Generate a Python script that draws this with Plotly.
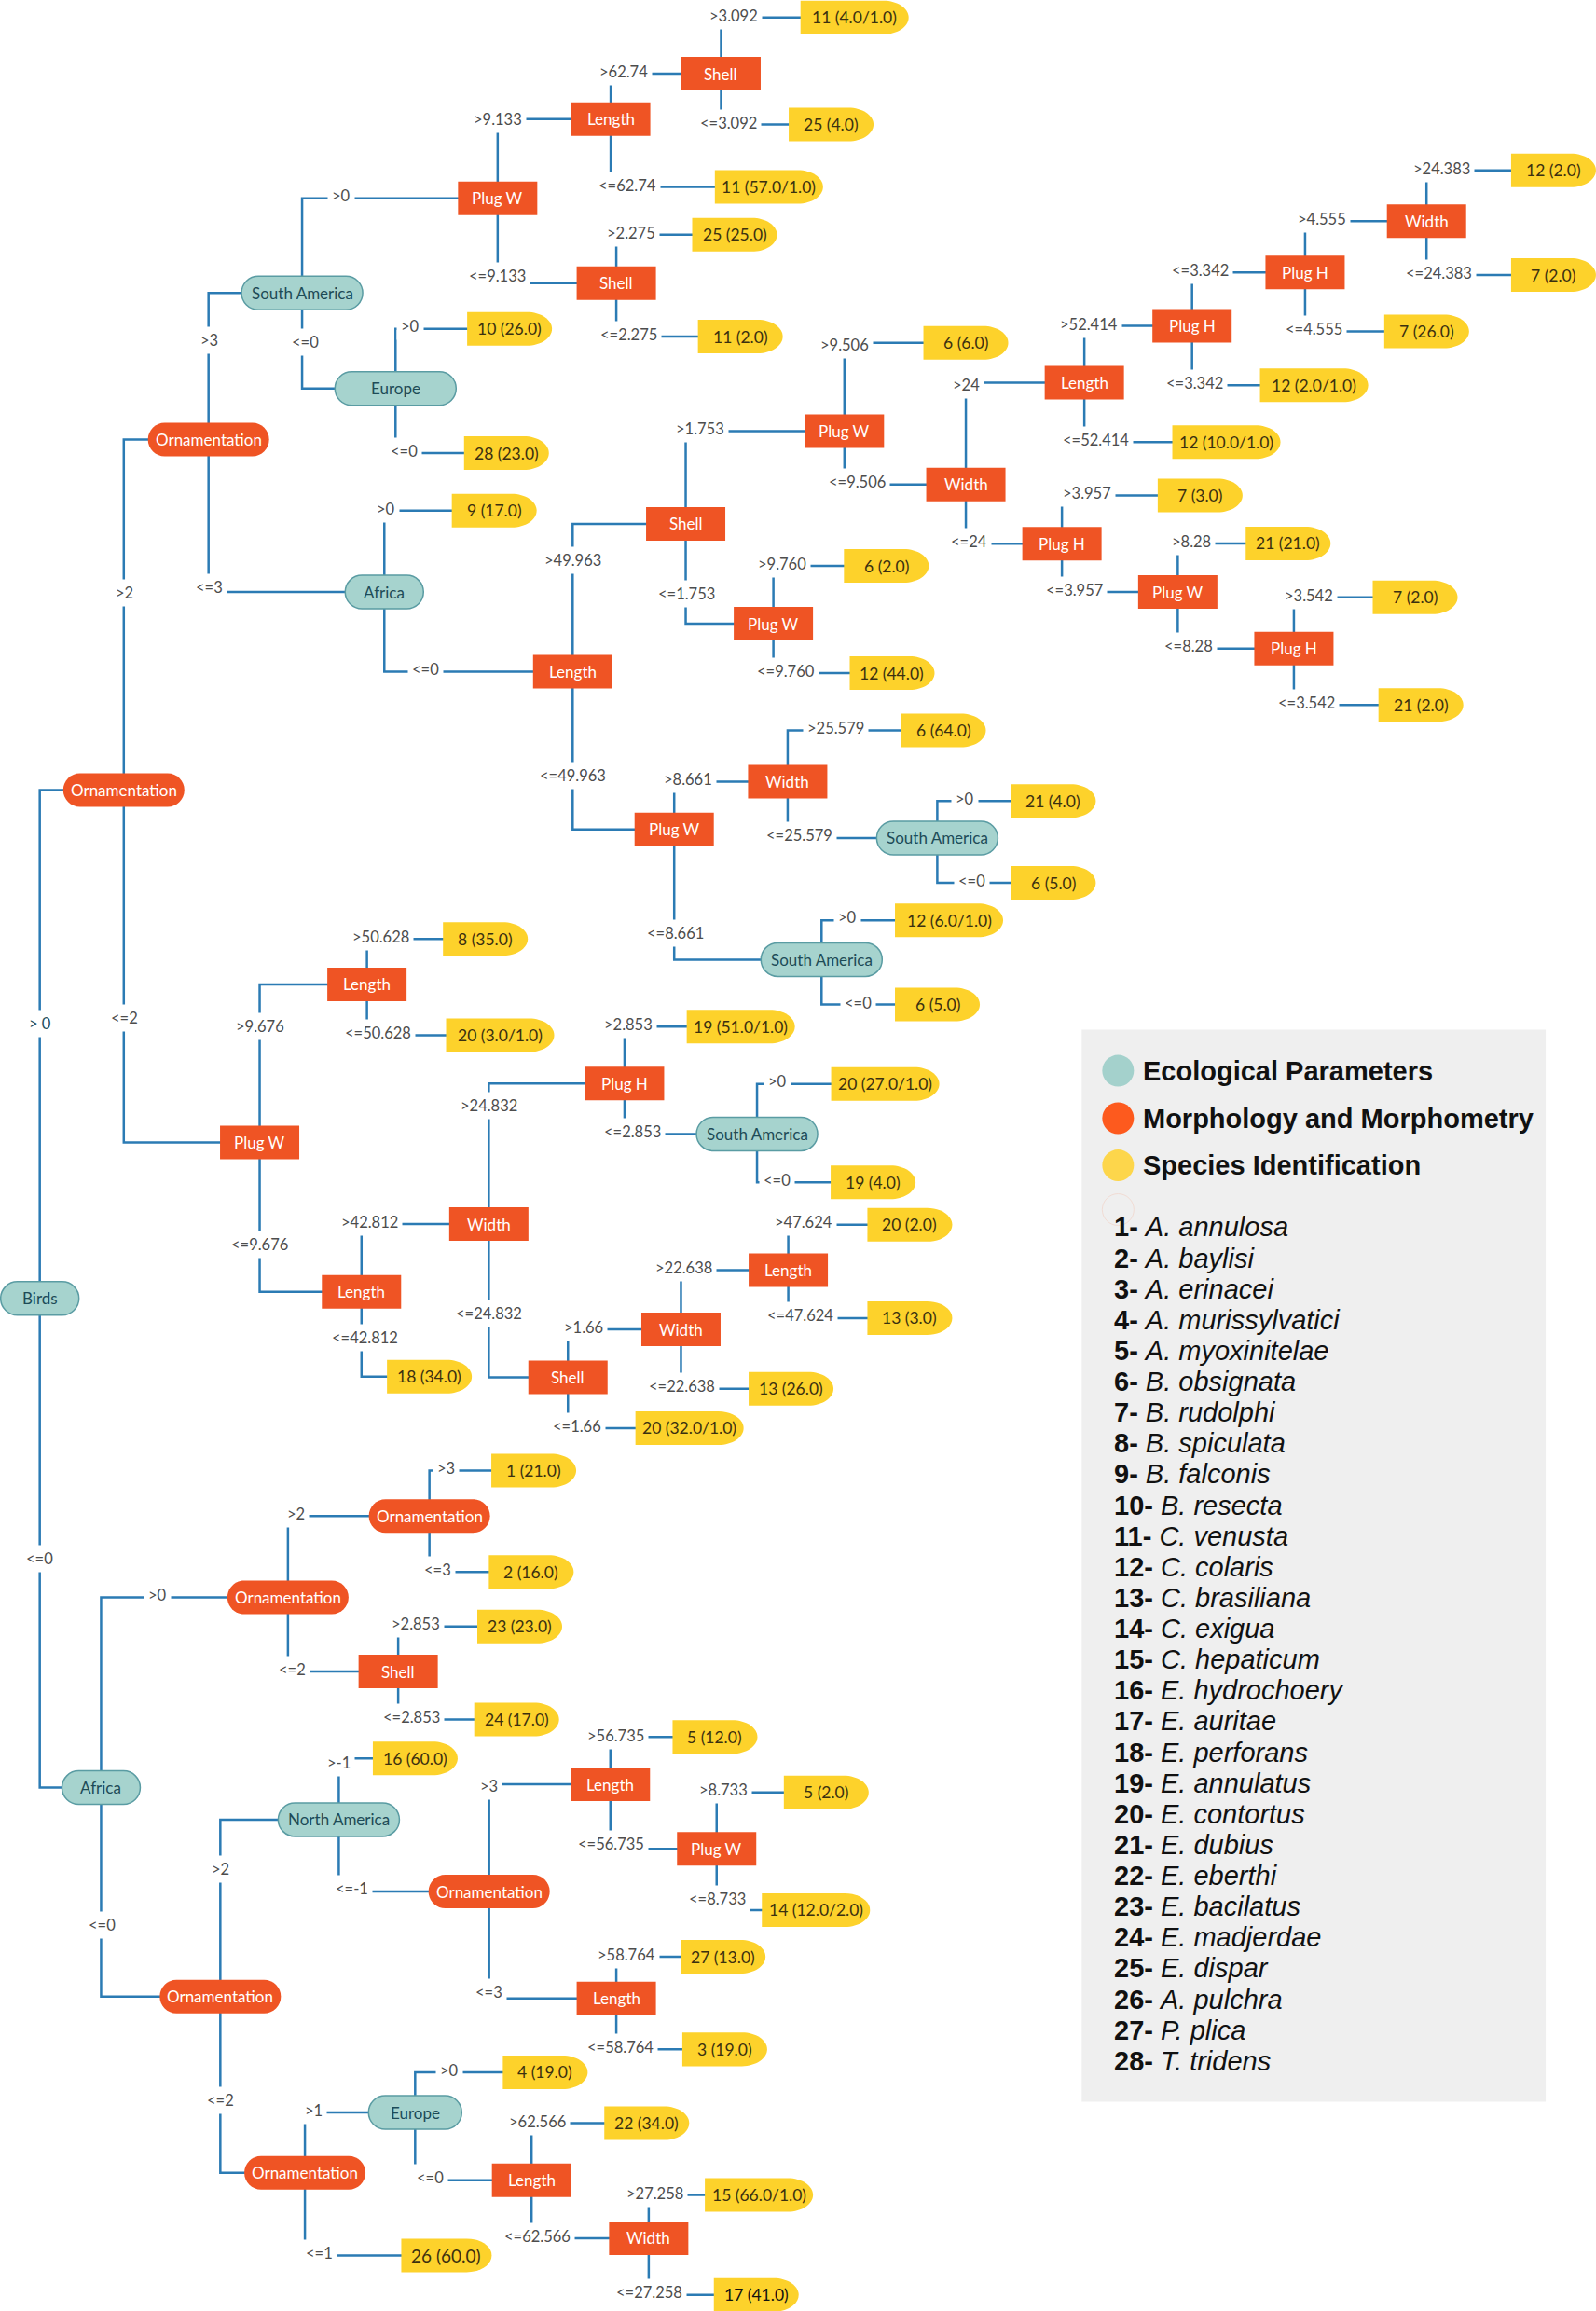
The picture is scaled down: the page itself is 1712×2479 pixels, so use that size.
import plotly.graph_objects as go

# ---------------- DATA ----------------
internal_ids = ["birds", "ornA", "ornB", "sa1", "pw1", "len1", "sh1", "sh2", "eu1", "af1",
                "len2", "sh3", "pw2", "wd1", "len3", "ph1", "ph2", "wd2", "ph3", "pw3",
                "ph4", "pw4", "pw5", "wd3", "sa2", "sa3", "pw6", "len4", "len5", "wd4",
                "ph5", "sa4", "sh4", "wd5", "len6", "af2", "ornC", "ornD", "sh5", "ornE",
                "na", "ornF", "len7", "pw7", "len8", "ornG", "eu2", "len9", "wd6"]
internal_labels = ["Birds", "Ornamentation", "Ornamentation", "South America", "Plug W", "Length",
                   "Shell", "Shell", "Europe", "Africa", "Length", "Shell", "Plug W", "Width",
                   "Length", "Plug H", "Plug H", "Width", "Plug H", "Plug W", "Plug H", "Plug W",
                   "Plug W", "Width", "South America", "South America", "Plug W", "Length",
                   "Length", "Width", "Plug H", "South America", "Shell", "Width", "Length",
                   "Africa", "Ornamentation", "Ornamentation", "Shell", "Ornamentation",
                   "North America", "Ornamentation", "Length", "Plug W", "Length",
                   "Ornamentation", "Europe", "Length", "Width"]
internal_kinds = ["eco", "orn", "orn", "eco", "rect", "rect", "rect", "rect", "eco", "eco",
                  "rect", "rect", "rect", "rect", "rect", "rect", "rect", "rect", "rect", "rect",
                  "rect", "rect", "rect", "rect", "eco", "eco", "rect", "rect", "rect", "rect",
                  "rect", "eco", "rect", "rect", "rect", "eco", "orn", "orn", "rect", "orn",
                  "eco", "orn", "rect", "rect", "rect", "orn", "eco", "rect", "rect"]

leaf_ids = ["l%d" % i for i in range(1, 51)]
leaf_labels = ["11 (4.0/1.0)", "25 (4.0)", "11 (57.0/1.0)", "25 (25.0)", "11 (2.0)",
               "10 (26.0)", "28 (23.0)", "9 (17.0)", "6 (6.0)", "12 (2.0)",
               "7 (2.0)", "7 (26.0)", "12 (2.0/1.0)", "12 (10.0/1.0)", "7 (3.0)",
               "21 (21.0)", "7 (2.0)", "21 (2.0)", "6 (2.0)", "12 (44.0)",
               "6 (64.0)", "21 (4.0)", "6 (5.0)", "12 (6.0/1.0)", "6 (5.0)",
               "8 (35.0)", "20 (3.0/1.0)", "19 (51.0/1.0)", "20 (27.0/1.0)", "19 (4.0)",
               "18 (34.0)", "20 (2.0)", "13 (3.0)", "13 (26.0)", "20 (32.0/1.0)",
               "1 (21.0)", "2 (16.0)", "23 (23.0)", "24 (17.0)", "16 (60.0)",
               "5 (12.0)", "5 (2.0)", "14 (12.0/2.0)", "27 (13.0)", "3 (19.0)",
               "4 (19.0)", "22 (34.0)", "15 (66.0/1.0)", "17 (41.0)", "26 (60.0)"]

edge_parent = ["birds", "birds", "ornA", "ornA", "ornB", "ornB", "sa1", "sa1", "pw1", "pw1",
               "len1", "len1", "sh1", "sh1", "sh2", "sh2", "eu1", "eu1", "af1", "af1",
               "len2", "len2", "sh3", "sh3", "pw2", "pw2", "wd1", "wd1", "len3", "len3",
               "ph1", "ph1", "ph2", "ph2", "wd2", "wd2", "ph3", "ph3", "pw3", "pw3",
               "ph4", "ph4", "pw4", "pw4", "pw5", "pw5", "wd3", "wd3", "sa2", "sa2",
               "sa3", "sa3", "pw6", "pw6", "len4", "len4", "len5", "len5", "wd4", "wd4",
               "ph5", "ph5", "sa4", "sa4", "sh4", "sh4", "wd5", "wd5", "len6", "len6",
               "af2", "af2", "ornC", "ornC", "ornD", "ornD", "sh5", "sh5", "ornE", "ornE",
               "na", "na", "ornF", "ornF", "len7", "len7", "pw7", "pw7", "len8", "len8",
               "ornG", "ornG", "eu2", "eu2", "len9", "len9", "wd6", "wd6"]
edge_child = ["ornA", "af2", "ornB", "pw6", "sa1", "af1", "pw1", "eu1", "len1", "sh2",
              "sh1", "l3", "l1", "l2", "l4", "l5", "l6", "l7", "l8", "len2",
              "sh3", "pw5", "pw2", "pw4", "l9", "wd1", "len3", "ph3", "ph1", "l14",
              "ph2", "l13", "wd2", "l12", "l10", "l11", "l15", "pw3", "l16", "ph4",
              "l17", "l18", "l19", "l20", "wd3", "sa3", "l21", "sa2", "l22", "l23",
              "l24", "l25", "len4", "len5", "l26", "l27", "wd4", "l31", "ph5", "sh4",
              "l28", "sa4", "l29", "l30", "wd5", "l35", "len6", "l34", "l32", "l33",
              "ornC", "ornE", "ornD", "sh5", "l36", "l37", "l38", "l39", "na", "ornG",
              "l40", "ornF", "len7", "len8", "l41", "pw7", "l42", "l43", "l44", "l45",
              "eu2", "l50", "l46", "len9", "l47", "wd6", "l48", "l49"]
edge_condition = ["> 0", "<=0", ">2", "<=2", ">3", "<=3", ">0", "<=0", ">9.133", "<=9.133",
                  ">62.74", "<=62.74", ">3.092", "<=3.092", ">2.275", "<=2.275", ">0", "<=0", ">0", "<=0",
                  ">49.963", "<=49.963", ">1.753", "<=1.753", ">9.506", "<=9.506", ">24", "<=24", ">52.414", "<=52.414",
                  "<=3.342", "<=3.342", ">4.555", "<=4.555", ">24.383", "<=24.383", ">3.957", "<=3.957", ">8.28", "<=8.28",
                  ">3.542", "<=3.542", ">9.760", "<=9.760", ">8.661", "<=8.661", ">25.579", "<=25.579", ">0", "<=0",
                  ">0", "<=0", ">9.676", "<=9.676", ">50.628", "<=50.628", ">42.812", "<=42.812", ">24.832", "<=24.832",
                  ">2.853", "<=2.853", ">0", "<=0", ">1.66", "<=1.66", ">22.638", "<=22.638", ">47.624", "<=47.624",
                  ">0", "<=0", ">2", "<=2", ">3", "<=3", ">2.853", "<=2.853", ">2", "<=2",
                  ">-1", "<=-1", ">3", "<=3", ">56.735", "<=56.735", ">8.733", "<=8.733", ">58.764", "<=58.764",
                  ">1", "<=1", ">0", "<=0", ">62.566", "<=62.566", ">27.258", "<=27.258"]

legend_categories = ["Ecological Parameters", "Morphology and Morphometry", "Species Identification"]
species_numbers = [str(i) for i in range(1, 29)]
species_names = ["A. annulosa", "A. baylisi", "A. erinacei", "A. murissylvatici", "A. myoxinitelae",
                 "B. obsignata", "B. rudolphi", "B. spiculata", "B. falconis", "B. resecta",
                 "C. venusta", "C. colaris", "C. brasiliana", "C. exigua", "C. hepaticum",
                 "E. hydrochoery", "E. auritae", "E. perforans", "E. annulatus", "E. contortus",
                 "E. dubius", "E. eberthi", "E. bacilatus", "E. madjerdae", "E. dispar",
                 "A. pulchra", "P. plica", "T. tridens"]

# ---------------- LAYOUT (diagram units: 1083 x 1568 canvas) ----------------
internal_xy = {
    "birds": (27, 881), "ornA": (84, 536), "ornB": (141.5, 298.2), "sa1": (205, 198.8),
    "pw1": (337.7, 134.6), "len1": (414.4, 80.8), "sh1": (489.3, 50), "sh2": (418.2, 192.1),
    "eu1": (268.4, 263.6), "af1": (260.8, 401.7), "len2": (388.6, 455.7), "sh3": (465.3, 355.4),
    "pw2": (573, 292.6), "wd1": (655.4, 328.7), "len3": (735.8, 259.6), "ph1": (808.9, 221.1),
    "ph2": (885.6, 184.9), "wd2": (968, 150.1), "ph3": (720.6, 368.9), "pw3": (799.2, 401.7),
    "ph4": (878, 440), "pw4": (524.8, 423.2), "pw5": (457.5, 562.8), "wd3": (534.5, 530.3),
    "sa2": (636, 568.6), "sa3": (557.5, 651.1), "pw6": (176.2, 775.2), "len4": (249, 667.9),
    "len5": (245.3, 876.5), "wd4": (331.7, 830.5), "ph5": (423.8, 735.1), "sa4": (513.7, 769.4),
    "sh4": (385.4, 934.5), "wd5": (462.1, 902), "len6": (534.9, 861.8), "af2": (68.6, 1212.9),
    "ornC": (195.4, 1083.8), "ornD": (291.4, 1028.6), "sh5": (270.2, 1134.1), "ornE": (149.5, 1354.7),
    "na": (229.9, 1234.6), "ornF": (331.9, 1283.4), "len7": (414.2, 1210.7), "pw7": (486.3, 1254.4),
    "len8": (418.2, 1356), "ornG": (206.9, 1474.3), "eu2": (281.7, 1433.3), "len9": (360.7, 1479.3),
    "wd6": (440.2, 1518.6),
}
leaf_left_y = [
    (543.2, 11.8), (535.2, 84.5), (485.1, 126.8), (469.7, 159.3), (473.6, 228.4),
    (317, 223.1), (314.9, 307.4), (306.6, 346.4), (626.6, 232.6), (1025.4, 115.6),
    (1025.4, 186.6), (939.3, 224.9), (855, 261.4), (795.5, 299.9), (785.6, 336.2),
    (845.3, 368.7), (931.5, 405.3), (935.4, 478.3), (572.7, 384), (576.6, 456.7),
    (611.4, 495.5), (686, 543.5), (686, 599), (607.3, 624.4), (607.3, 681.6),
    (300.6, 637.1), (302.7, 702.4), (466, 696.6), (564, 735.4), (563.7, 802.2),
    (262.6, 934), (588.6, 831), (588.6, 894.3), (508, 942.3), (431.2, 969),
    (333.4, 997.8), (331.7, 1066.6), (323.9, 1103.6), (321.8, 1166.6), (253, 1193.1),
    (456.4, 1178.5), (531.9, 1216.2), (517, 1296), (461.9, 1327.7), (463, 1390.5),
    (341.2, 1406), (410.1, 1440.6), (478.3, 1489.3), (484.4, 1557.1), (272.3, 1530.3),
]
edge_label_xy = [
    (27, 694.6), (27, 1057.3), (84.3, 402.2), (84.3, 690.6), (141.9, 230.6), (142.1, 398.5),
    (231.5, 133.1), (207.3, 231.9), (337.7, 80.8), (337.7, 187.1),
    (423, 48.7), (425.7, 125.6), (497.6, 10.5), (494.4, 83.3), (428.5, 158.1), (426.6, 227.1),
    (278.3, 221.6), (274.1, 306.2), (262.2, 345.2), (288.6, 454),
    (388.9, 380.4), (388.9, 526), (475, 290.9), (465.8, 403.2), (573.1, 233.9), (581.9, 327.2),
    (655.6, 261.4), (657.3, 367.7), (739, 220.1), (743.7, 298.4),
    (814.7, 183.3), (810.9, 260.1), (896.9, 148.8), (891.6, 223.4), (978.4, 114.3), (976.3, 185.1),
    (737.9, 334.7), (729, 400.2), (808.2, 367.7), (806.6, 438.5),
    (888.2, 404), (886.5, 476.7), (530.6, 382.7), (533.1, 455.2), (466.7, 528.8), (458, 633.1),
    (566.9, 494), (542.5, 566.8), (654.9, 542.3), (659.6, 597.8),
    (575, 622.4), (582.4, 680.4), (176.2, 696.6), (176.4, 844.5), (258.5, 635.6), (256.2, 701.1),
    (251.1, 829), (247.7, 907.7), (331.7, 749.9), (331.7, 891.5),
    (426.2, 695.4), (429.4, 768), (527.5, 733.9), (527.1, 800.9), (396.3, 900.5), (391.6, 967.8),
    (463.8, 860.2), (462.6, 940.8), (545.5, 829.5), (543.2, 892.7),
    (106.7, 1082.3), (69.1, 1306.2), (200.9, 1027), (198.6, 1132.6), (302.9, 996.5), (296.7, 1065.3),
    (282.4, 1102.1), (279.2, 1165.1), (149.7, 1268.4), (149.7, 1425),
    (229.9, 1196.1), (238.7, 1281.7), (331.7, 1211.7), (332, 1351.7), (418, 1177.5), (414.4, 1250.9),
    (490.9, 1214.6), (486.8, 1288.2), (424.8, 1326.2), (420.7, 1389.3),
    (212.9, 1431.8), (216.5, 1528.8), (305.2, 1404.8), (292.1, 1477.3), (365, 1439.3), (365, 1517.3),
    (444.2, 1488.1), (440.7, 1555.6),
]

# ---------------- STYLE ----------------
K = 1712 / 1083.0          # pixels per diagram unit


def u(px):
    return px / K


NODE_H = u(36)
RECT_W = u(85)
PILL_W = u(130)
eco_width_px = {"birds": 84, "af1": 84, "af2": 84, "eu2": 100}
leaf_width_px_override = {"l50": 97}
leaf_font_override = {"l50": 19}
leaf_color_override = {"l49": "#111111"}

EDGE_COLOR = "#2b7bb4"
ORANGE = "#ef5424"
TEAL = "#a6d3ce"
TEAL_LINE = "#5a9ca3"
YELLOW = "#fdd22b"
FONT = "Lato, 'Open Sans', sans-serif"
LEG_FONT = "'Liberation Sans', Arial, sans-serif"


def stadium(xc, yc, w, h, rl, rr):
    k = 0.5523
    x0, x1 = xc - w / 2, xc + w / 2
    y0, y1 = yc - h / 2, yc + h / 2
    ry = h / 2
    p = f"M{x0 + rl},{y0} L{x1 - rr},{y0} "
    if rr > 0:
        p += (f"C{x1 - rr + k * rr},{y0} {x1},{yc - k * ry} {x1},{yc} "
              f"C{x1},{yc + k * ry} {x1 - rr + k * rr},{y1} {x1 - rr},{y1} ")
    else:
        p += f"L{x1},{y0} L{x1},{y1} "
    p += f"L{x0 + rl},{y1} "
    if rl > 0:
        p += (f"C{x0 + rl - k * rl},{y1} {x0},{yc + k * ry} {x0},{yc} "
              f"C{x0},{yc - k * ry} {x0 + rl - k * rl},{y0} {x0 + rl},{y0} ")
    else:
        p += f"L{x0},{y1} L{x0},{y0} "
    return p + "Z"


# node centres
centre = dict(internal_xy)
leaf_w = {}
for lid, lab, (lx, ly) in zip(leaf_ids, leaf_labels, leaf_left_y):
    wpx = leaf_width_px_override.get(lid, 116 if "/" in lab else 91)
    leaf_w[lid] = u(wpx)
    centre[lid] = (lx + u(wpx) / 2, ly)

fig = go.Figure()

# edges (elbow connectors)
ex, ey = [], []
for p, c in zip(edge_parent, edge_child):
    px, py = centre[p]
    cx, cy = centre[c]
    ex += [px, px, cx, None]
    ey += [py, cy, cy, None]
fig.add_trace(go.Scatter(x=ex, y=ey, mode="lines", line=dict(color=EDGE_COLOR, width=2.5),
                         hoverinfo="skip", showlegend=False))

shapes = []
annotations = []

# legend box
shapes.append(dict(type="rect", xref="x", yref="y", x0=734, x1=1048.9, y0=698.6, y1=1426,
                   fillcolor="#efefef", line=dict(width=0), layer="below"))

# internal nodes
for nid, lab, kind in zip(internal_ids, internal_labels, internal_kinds):
    x, y = internal_xy[nid]
    if kind == "rect":
        shapes.append(dict(type="rect", xref="x", yref="y", x0=x - RECT_W / 2, x1=x + RECT_W / 2,
                           y0=y - NODE_H / 2, y1=y + NODE_H / 2, fillcolor=ORANGE,
                           line=dict(width=0), layer="above"))
        tcol = "white"
    elif kind == "orn":
        shapes.append(dict(type="path", xref="x", yref="y",
                           path=stadium(x, y, PILL_W, NODE_H, NODE_H / 2, NODE_H / 2),
                           fillcolor=ORANGE, line=dict(width=0), layer="above"))
        tcol = "white"
    else:
        w = u(eco_width_px.get(nid, 130))
        shapes.append(dict(type="path", xref="x", yref="y",
                           path=stadium(x, y, w, NODE_H, NODE_H / 2, NODE_H / 2),
                           fillcolor=TEAL, line=dict(color=TEAL_LINE, width=1.5), layer="above"))
        tcol = "#1d4b57"
    annotations.append(dict(x=x, y=y, xref="x", yref="y", text=lab, showarrow=False,
                            xanchor="center", yanchor="middle",
                            font=dict(family=FONT, size=17, color=tcol)))

# leaves
for lid, lab in zip(leaf_ids, leaf_labels):
    x, y = centre[lid]
    shapes.append(dict(type="path", xref="x", yref="y",
                       path=stadium(x, y, leaf_w[lid], NODE_H, 0, u(27)),
                       fillcolor=YELLOW, line=dict(width=0), layer="above"))
    annotations.append(dict(x=x, y=y, xref="x", yref="y", text=lab, showarrow=False,
                            xanchor="center", yanchor="middle",
                            font=dict(family=FONT, size=leaf_font_override.get(lid, 17.5),
                                      color=leaf_color_override.get(lid, "#3b3010"))))

# edge labels
for cond, (lx, ly) in zip(edge_condition, edge_label_xy):
    col = "#1f4e5c" if cond == "> 0" else "#4d4d4d"
    annotations.append(dict(x=lx, y=ly, xref="x", yref="y", text=cond, showarrow=False,
                            xanchor="center", yanchor="middle", bgcolor="white", borderpad=4,
                            font=dict(family=FONT, size=16.5, color=col)))

# legend
leg_colors = ["#a4d1cc", "#fd5a1e", "#fdd64b"]
leg_y = [726.5, 758.7, 790.7]
r = u(17)
for name, colr, yy in zip(legend_categories, leg_colors, leg_y):
    shapes.append(dict(type="circle", xref="x", yref="y", x0=758.7 - r, x1=758.7 + r,
                       y0=yy - r, y1=yy + r, fillcolor=colr, line=dict(width=0), layer="above"))
    annotations.append(dict(x=774.5, y=yy, xref="x", yref="y", text="<b>%s</b>" % name,
                            showarrow=False, xanchor="left", yanchor="middle",
                            font=dict(family=LEG_FONT, size=29, color="#111111")))
shapes.append(dict(type="circle", xref="x", yref="y", x0=758.7 - r, x1=758.7 + r,
                   y0=820.7 - r, y1=820.7 + r, fillcolor="rgba(0,0,0,0)",
                   line=dict(color="#f1dcd4", width=1), layer="above"))

for i, (num, nm) in enumerate(zip(species_numbers, species_names)):
    yy = 832.7 + i * 20.95
    annotations.append(dict(x=754.5, y=yy, xref="x", yref="y",
                            text="<b>%s-</b> <i>%s</i>" % (num, nm), showarrow=False,
                            xanchor="left", yanchor="middle",
                            font=dict(family=LEG_FONT, size=29, color="#111111")))

fig.update_layout(
    width=1712, height=2479,
    margin=dict(l=0, r=0, t=0, b=0),
    paper_bgcolor="white", plot_bgcolor="white",
    xaxis=dict(range=[0, 1083], visible=False, fixedrange=True),
    yaxis=dict(range=[1568, 0], visible=False, fixedrange=True),
    shapes=shapes, annotations=annotations, showlegend=False,
)

fig.write_html("out.html", config={"displayModeBar": False},
               post_script="document.body.style.margin='0px';document.body.style.overflow='hidden';")
